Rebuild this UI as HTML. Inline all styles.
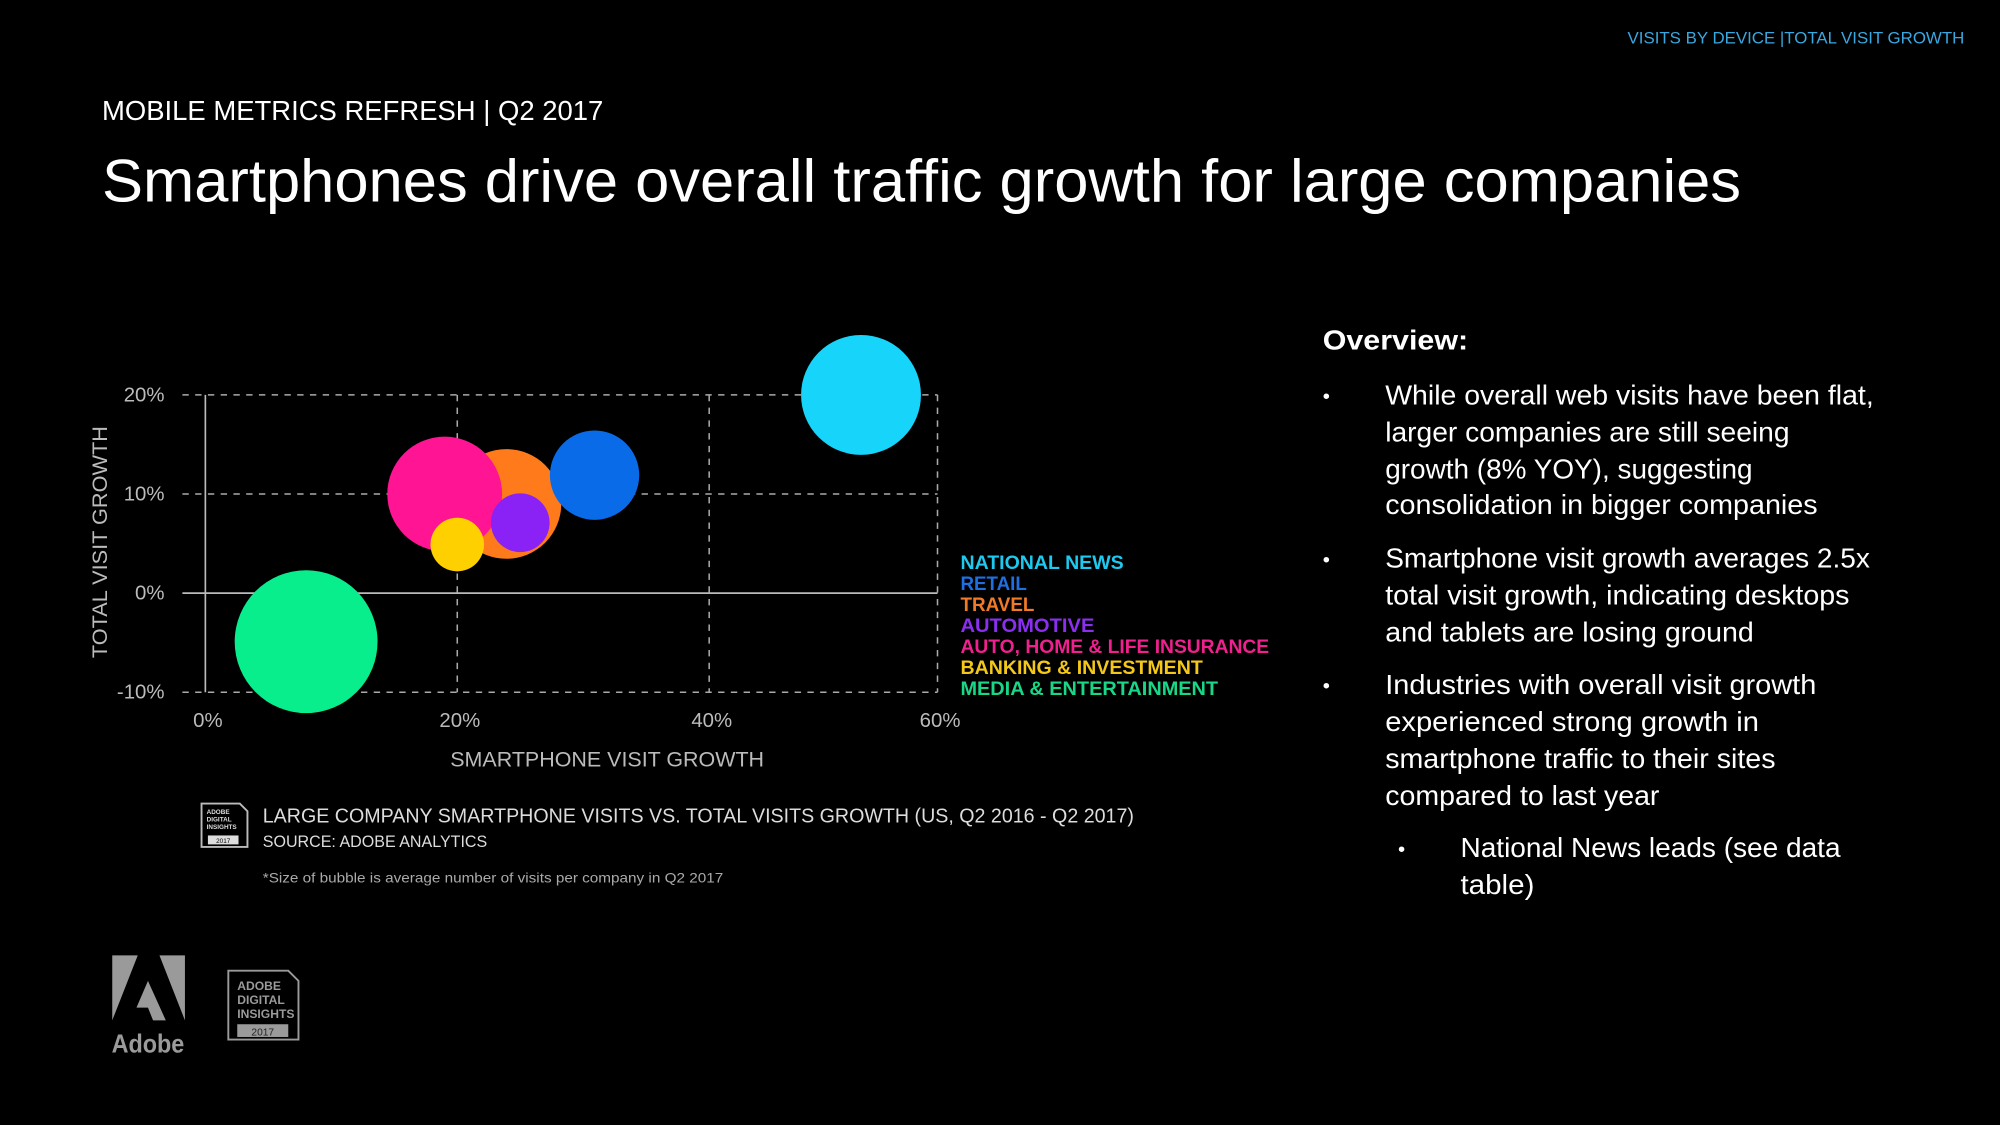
<!DOCTYPE html>
<html><head><meta charset="utf-8"><style>
html,body{margin:0;padding:0;background:#000;width:2000px;height:1125px;overflow:hidden}
svg{display:block}
text{font-family:"Liberation Sans",sans-serif}
</style></head><body>
<svg id="s" width="2000" height="1125" viewBox="0 0 1568 882" xmlns="http://www.w3.org/2000/svg">
<text x="1540" y="34" text-anchor="end" font-size="13" fill="#3aa8e0" textLength="264" lengthAdjust="spacingAndGlyphs">VISITS BY DEVICE |TOTAL VISIT GROWTH</text>
<text x="80" y="94" font-size="22" fill="#fff" textLength="393" lengthAdjust="spacingAndGlyphs">MOBILE METRICS REFRESH | Q2 2017</text>
<text x="80" y="158" font-size="47" fill="#fff" textLength="1285" lengthAdjust="spacingAndGlyphs">Smartphones drive overall traffic growth for large companies</text>

<g id="chart"></g>

<g font-weight="bold" font-size="15">
<text x="753" y="446" fill="#1ec8ee" textLength="128" lengthAdjust="spacingAndGlyphs">NATIONAL NEWS</text>
<text x="753" y="462.5" fill="#1e6fe0" textLength="52" lengthAdjust="spacingAndGlyphs">RETAIL</text>
<text x="753" y="479" fill="#f07a28" textLength="58" lengthAdjust="spacingAndGlyphs">TRAVEL</text>
<text x="753" y="495.5" fill="#8a2ff0" textLength="105" lengthAdjust="spacingAndGlyphs">AUTOMOTIVE</text>
<text x="753" y="512" fill="#f0208e" textLength="242" lengthAdjust="spacingAndGlyphs">AUTO, HOME &amp; LIFE INSURANCE</text>
<text x="753" y="528.5" fill="#f4c818" textLength="190" lengthAdjust="spacingAndGlyphs">BANKING &amp; INVESTMENT</text>
<text x="753" y="545" fill="#18d888" textLength="202" lengthAdjust="spacingAndGlyphs">MEDIA &amp; ENTERTAINMENT</text>
</g>

<g>
<path d="M158 630 H188 L194 636 V664 H158 Z" fill="none" stroke="#bbb" stroke-width="1.5"/>
<text x="162" y="638" font-size="5" fill="#ddd" font-weight="bold">ADOBE</text>
<text x="162" y="644" font-size="5" fill="#ddd" font-weight="bold">DIGITAL</text>
<text x="162" y="650" font-size="5" fill="#ddd" font-weight="bold">INSIGHTS</text>
<rect x="163" y="655" width="24" height="7" fill="#ddd"/>
<text x="175" y="661" font-size="5" fill="#000" text-anchor="middle">2017</text>
</g>
<text x="206" y="645" font-size="16" fill="#ddd" textLength="683" lengthAdjust="spacingAndGlyphs">LARGE COMPANY SMARTPHONE VISITS VS. TOTAL VISITS GROWTH (US, Q2 2016 - Q2 2017)</text>
<text x="206" y="664" font-size="13" fill="#ddd" textLength="176" lengthAdjust="spacingAndGlyphs">SOURCE: ADOBE ANALYTICS</text>
<text x="206" y="692" font-size="11" fill="#aaa" textLength="361" lengthAdjust="spacingAndGlyphs">*Size of bubble is average number of visits per company in Q2 2017</text>

<g fill="#fff" font-size="22">
<text x="1037" y="274" font-weight="bold" textLength="114" lengthAdjust="spacingAndGlyphs">Overview:</text>
<text x="1037" y="316" font-size="16">•</text>
<text x="1086" y="317" textLength="383" lengthAdjust="spacingAndGlyphs">While overall web visits have been flat,</text>
<text x="1086" y="346" textLength="317" lengthAdjust="spacingAndGlyphs">larger companies are still seeing</text>
<text x="1086" y="375" textLength="288" lengthAdjust="spacingAndGlyphs">growth (8% YOY), suggesting</text>
<text x="1086" y="403" textLength="339" lengthAdjust="spacingAndGlyphs">consolidation in bigger companies</text>
<text x="1037" y="444" font-size="16">•</text>
<text x="1086" y="445" textLength="380" lengthAdjust="spacingAndGlyphs">Smartphone visit growth averages 2.5x</text>
<text x="1086" y="474" textLength="364" lengthAdjust="spacingAndGlyphs">total visit growth, indicating desktops</text>
<text x="1086" y="503" textLength="289" lengthAdjust="spacingAndGlyphs">and tablets are losing ground</text>
<text x="1037" y="543" font-size="16">•</text>
<text x="1086" y="544" textLength="338" lengthAdjust="spacingAndGlyphs">Industries with overall visit growth</text>
<text x="1086" y="573" textLength="293" lengthAdjust="spacingAndGlyphs">experienced strong growth in</text>
<text x="1086" y="602" textLength="306" lengthAdjust="spacingAndGlyphs">smartphone traffic to their sites</text>
<text x="1086" y="631" textLength="215" lengthAdjust="spacingAndGlyphs">compared to last year</text>
<text x="1096" y="671" font-size="16">•</text>
<text x="1145" y="672" textLength="298" lengthAdjust="spacingAndGlyphs">National News leads (see data</text>
<text x="1145" y="701" textLength="58" lengthAdjust="spacingAndGlyphs">table)</text>
</g>

<g fill="#9a9a9a">
<polygon points="88,749 108,749 88,800"/>
<polygon points="125,749 145,749 145,800"/>
<polygon points="116,769 130,800 120,800 116,790 107,790"/>
<text x="116" y="825" font-size="20" font-weight="bold" text-anchor="middle" textLength="57" lengthAdjust="spacingAndGlyphs">Adobe</text>
</g>
<g>
<path d="M179 761 H226 L234 769 V815 H179 Z" fill="none" stroke="#9a9a9a" stroke-width="1.5"/>
<text x="186" y="776" font-size="9.5" font-weight="bold" fill="#9a9a9a">ADOBE</text>
<text x="186" y="787" font-size="9.5" font-weight="bold" fill="#9a9a9a">DIGITAL</text>
<text x="186" y="798" font-size="9.5" font-weight="bold" fill="#9a9a9a">INSIGHTS</text>
<rect x="186" y="803" width="40" height="10" fill="#9a9a9a"/>
<text x="206" y="812" font-size="8" fill="#222" text-anchor="middle">2017</text>
</g>
</svg>
<script>
const categories = ["Travel","Auto, Home & Life Insurance","Retail","National News","Automotive","Banking & Investment","Media & Entertainment"];
const xValues = [23.9, 19.0, 30.9, 53.3, 25.0, 20.0, 8.0];
const yValues = [9.0, 10.0, 11.9, 20.0, 7.1, 4.9, -4.9];
const sizes = [1849, 2025, 1225, 2209, 529, 441, 3136];
const colors = ["#ff7a1a","#ff1493","#0a6be8","#16d4fa","#8a22f5","#ffd000","#08ee8c"];
const xTicks = [0, 20, 40, 60];
const xTickLabels = ["0%","20%","40%","60%"];
const yTicks = [20, 10, 0, -10];
const yTickLabels = ["20%","10%","0%","-10%"];

const NS = "http://www.w3.org/2000/svg";
const g = document.getElementById('chart');
function xs(v){ return v >= 40 ? 556 + (v-40)/20*179 : 161 + v/20*197.5; }
function ys(v){ return 465 - v/10*77.7; }
function rs(s){ return Math.sqrt(s); }
function mk(tag, attrs){ const e=document.createElementNS(NS,tag); for(const k in attrs) e.setAttribute(k,attrs[k]); g.appendChild(e); return e; }

yTicks.forEach((t,i)=>{
  let l;
  if(t===0){ l = mk('line',{x1:143,x2:735,y1:ys(t),y2:ys(t),stroke:'#bbb','stroke-width':1.3}); }
  else { l = mk('line',{x1:143,x2:735,y1:ys(t),y2:ys(t),stroke:'#aaa','stroke-width':1.2,'stroke-dasharray':'5 5'}); }
  
  
  const tx = mk('text',{x:129,y:ys(t)+5,'text-anchor':'end','font-size':16,fill:'#bbb'});
  tx.textContent = yTickLabels[i];
  
  
});
xTicks.forEach((t,i)=>{
  if(t>0){
    const l = mk('line',{x1:xs(t),x2:xs(t),y1:ys(20),y2:ys(-10),stroke:'#aaa','stroke-width':1.2,'stroke-dasharray':'5 5'});
    
    
  }
  const tx = mk('text',{x:xs(t)+2,y:570,'text-anchor':'middle','font-size':16,fill:'#bbb'});
  tx.textContent = xTickLabels[i];
  
  
});
const ax = mk('line',{x1:161,x2:161,y1:ys(20),y2:ys(-10),stroke:'#bbb','stroke-width':1.3});



categories.forEach((c,i)=>{
  const b = mk('circle',{cx:xs(xValues[i]),cy:ys(yValues[i]),r:rs(sizes[i]),fill:colors[i]});
  
  
});

const xt = mk('text',{x:476,y:601,'text-anchor':'middle','font-size':17,fill:'#bbb',textLength:246,lengthAdjust:'spacingAndGlyphs'});
xt.textContent = 'SMARTPHONE VISIT GROWTH';


const yt = mk('text',{x:0,y:0,'text-anchor':'middle','font-size':17,fill:'#bbb',textLength:182,lengthAdjust:'spacingAndGlyphs',transform:'translate(84,425) rotate(-90)'});
yt.textContent = 'TOTAL VISIT GROWTH';


</script>
</body></html>
